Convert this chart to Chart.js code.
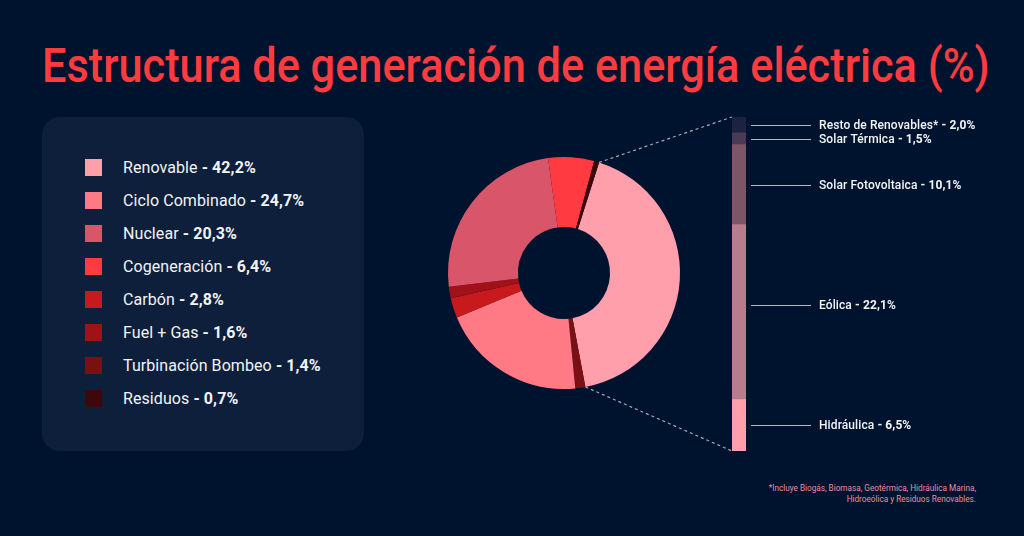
<!DOCTYPE html>
<html lang="es">
<head>
<meta charset="utf-8">
<title>Estructura de generación de energía eléctrica</title>
<script src="https://cdn.jsdelivr.net/npm/chart.js@4"></script>
<style>
    html, body { margin: 0; padding: 0; background: #00132e; }
    body { width: 1024px; height: 536px; position: relative; overflow: hidden; font-family: Roboto, sans-serif; color: #f2f4f7; }
    canvas { position: absolute; left: 0; top: 0; }
    #title { position: absolute; left: 42px; top: 34px; font-size: 49px; line-height: 64px; font-weight: 500; color: #ff3b40; white-space: nowrap; transform-origin: left top; }
    #panel { position: absolute; left: 42px; top: 117px; width: 322px; height: 334px; border-radius: 18px; background: #0e1f3b; }
    .row { position: absolute; left: 81px; font-size: 16px; letter-spacing: 0.08px; line-height: 18px; white-space: nowrap; }
    .row i { position: absolute; left: 4px; top: 0; width: 17px; height: 17px; }
    .row span { margin-left: 42px; }
    #note { position: absolute; right: 48px; top: 483px; font-size: 8.2px; line-height: 10.5px; text-align: right; color: #e88f9d; }
</style>
</head>
<body>
<div id="panel"></div>
<div id="title">Estructura de generación de energía eléctrica (%)</div>
<div id="legend"></div>
<div id="note">*Incluye Biogás, Biomasa, Geotérmica, Hidráulica Marina,<br>Hidroeólica y Residuos Renovables.</div>
<canvas id="donut" width="1024" height="536"></canvas>
<canvas id="bar" width="1024" height="536"></canvas>
<script>
// legend, as printed
const legendNames = ['Renovable', 'Ciclo Combinado', 'Nuclear', 'Cogeneración', 'Carbón', 'Fuel + Gas', 'Turbinación Bombeo', 'Residuos'];
const legendTexts = ['42,2%', '24,7%', '20,3%', '6,4%', '2,8%', '1,6%', '1,4%', '0,7%'];
const legendColors = ['#ff9fab', '#ff7a85', '#d9566a', '#ff3a40', '#c81a1c', '#a11218', '#7a1014', '#3d080c'];

// slices clockwise from the renewable one. Sizes are as drawn in the picture,
// where the 20,3 slice has the Ciclo colour and the 24,7 one the Nuclear colour
const sliceNames = ['Renovable', 'Turbinación Bombeo', 'Ciclo Combinado', 'Carbón', 'Fuel + Gas', 'Nuclear', 'Cogeneración', 'Residuos'];
const sliceValues = [42.2, 1.4, 20.3, 2.8, 1.6, 24.7, 6.4, 0.7];
const sliceColors = ['#ff9fab', '#7a1014', '#ff7a85', '#c81a1c', '#a11218', '#d9566a', '#ff3a40', '#3d080c'];

// renewable breakdown, bottom to top
const renewNames = ['Hidráulica', 'Eólica', 'Solar Fotovoltaica', 'Solar Térmica', 'Resto de Renovables*'];
const renewValues = [6.5, 22.1, 10.1, 1.5, 2.0];
const renewTexts = ['6,5%', '22,1%', '10,1%', '1,5%', '2,0%'];
const renewColors = ['#ff9fab', '#b87c8c', '#7c5568', '#4a3a55', '#1c2340'];

// squeeze the title to the width it has in the original face
const titleEl = document.getElementById('title');
titleEl.style.transform = `scaleX(${948 / titleEl.offsetWidth})`;

const legendEl = document.getElementById('legend');
const legendTops = [159, 192, 225, 258, 291, 324, 357, 390];
legendNames.forEach((name, i) => {
    const row = document.createElement('div');
    row.className = 'row';
    row.style.top = legendTops[i] + 'px';
    row.innerHTML = `<i style="background:${legendColors[i]}"></i><span>${name} <b>- ${legendTexts[i]}</b></span>`;
    legendEl.appendChild(row);
});

const donutChart = new Chart(document.getElementById('donut'), {
    type: 'doughnut',
    data: {
        labels: sliceNames,
        datasets: [{ data: sliceValues, backgroundColor: sliceColors, borderWidth: 0 }]
    },
    options: {
        responsive: false,
        animation: false,
        rotation: 17.6,
        cutout: '39.7%',
        layout: { padding: { left: 448, right: 344, top: 157, bottom: 147 } },
        plugins: { legend: { display: false }, tooltip: { enabled: false } }
    }
});

// dotted connectors, leader lines and labels for the stacked column
const annotations = {
    id: 'annotations',
    afterDatasetsDraw(chart) {
        const c = chart.ctx;
        const area = chart.chartArea;
        const y = chart.scales.y;
        const arc = donutChart.getDatasetMeta(0).data[0];

        c.save();
        c.strokeStyle = '#a3abb8';
        c.lineWidth = 1.2;
        c.setLineDash([3, 3]);
        [[arc.startAngle, area.top], [arc.endAngle, area.bottom]].forEach(([angle, py]) => {
            c.beginPath();
            c.moveTo(arc.x + Math.cos(angle) * arc.outerRadius, arc.y + Math.sin(angle) * arc.outerRadius);
            c.lineTo(area.left, py);
            c.stroke();
        });
        c.setLineDash([]);
        c.lineWidth = 1;

        let sum = 0;
        renewValues.forEach((v, i) => {
            let py = y.getPixelForValue(sum + v / 2);
            sum += v;
            // the Eólica label sits a little above the middle of its band
            if (renewNames[i] === 'Eólica') py -= 7;
            py = Math.round(py) + 0.5;
            c.strokeStyle = '#b4bac4';
            c.beginPath();
            c.moveTo(751, py);
            c.lineTo(811, py);
            c.stroke();

            c.textBaseline = 'middle';
            c.fillStyle = '#f2f4f7';
            c.letterSpacing = '0.1px';
            const head = renewNames[i] + ' ';
            c.font = '500 12px Roboto';
            c.fillText(head, 819, py);
            const w = c.measureText(head).width;
            c.font = '700 12px Roboto';
            c.fillText('- ' + renewTexts[i], 819 + w, py);
        });
        c.restore();
    }
};

new Chart(document.getElementById('bar'), {
    type: 'bar',
    data: {
        labels: ['Renovable'],
        datasets: renewNames.map((name, i) => ({
            label: name,
            data: [renewValues[i]],
            backgroundColor: renewColors[i],
            borderWidth: 0,
            barPercentage: 1,
            categoryPercentage: 1
        }))
    },
    options: {
        responsive: false,
        animation: false,
        layout: { padding: { left: 732, right: 278, top: 117, bottom: 85 } },
        scales: {
            x: { stacked: true, display: false },
            y: { stacked: true, display: false, min: 0, max: 42.2 }
        },
        plugins: { legend: { display: false }, tooltip: { enabled: false } }
    },
    plugins: [annotations]
});
</script>
</body>
</html>
